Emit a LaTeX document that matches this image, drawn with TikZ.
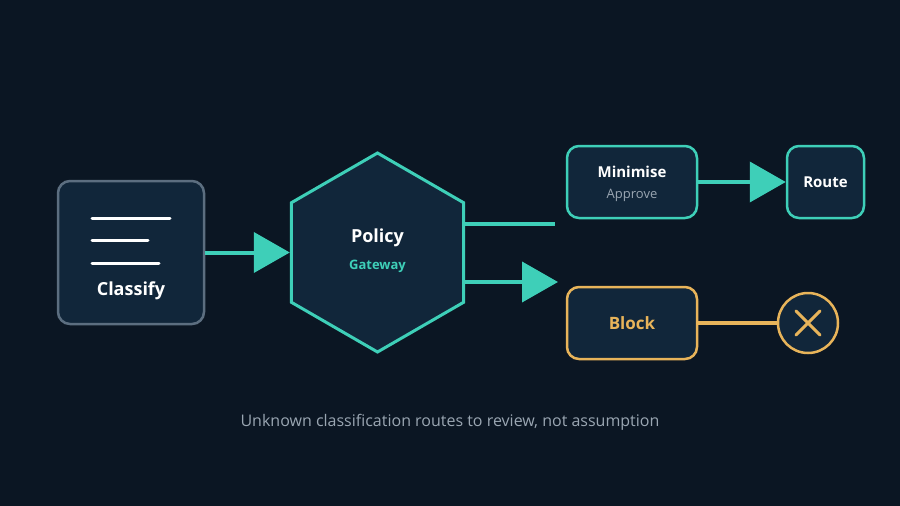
\documentclass[tikz,border=0pt]{standalone}
\usepackage{fontspec}
\setmainfont{Open Sans}
\usetikzlibrary{shapes.geometric,arrows.meta}
\definecolor{bgdark}{HTML}{0B1623}
\definecolor{boxfill}{HTML}{11263A}
\definecolor{teal}{HTML}{3ECFB8}
\definecolor{amber}{HTML}{E8B45A}
\definecolor{slate}{HTML}{5C6E80}
\definecolor{mute}{HTML}{9AA6B2}
\tikzset{
  card/.style={line width=2.5pt, fill=boxfill, rounded corners=12pt, inner sep=0pt},
  flow/.style={teal, line width=4pt, -{Triangle[length=36pt,width=40pt]}},
}
\begin{document}
\begin{tikzpicture}[x=1pt,y=-1pt]
	\fill[bgdark] (0,0) rectangle (900,506);
	\useasboundingbox (0,0) rectangle (900,506);
	\node[card, draw=slate, minimum width=146pt, minimum height=143pt] (classify) at (131,252.5) {};
	\draw[white, line width=3pt, line cap=round] (92,218) -- (170,218) (92,240) -- (148,240) (92,263) -- (159,263);
	\node[text=white, font=\bfseries\fontsize{18}{20}\selectfont] (classifylbl) at (131,291) {Classify};
	\node[regular polygon, regular polygon sides=6, shape border rotate=30, draw=teal, line width=3pt,
	  fill=boxfill, minimum size=199pt, inner sep=0pt] (gate) at (377.5,252.5) {};
	\node[text=white, font=\bfseries\fontsize{18}{20}\selectfont] (policy) at (377.5,238) {Policy};
	\node[text=teal, font=\bfseries\fontsize{13}{15}\selectfont] (gatewaylbl) at (377.5,266) {Gateway};
	\node[card, draw=teal, minimum width=130pt, minimum height=72pt] (minimise) at (632,182) {};
	\node[text=white, font=\bfseries\fontsize{15}{17}\selectfont] at (632,172) {Minimise};
	\node[text=mute, font=\fontsize{13}{15}\selectfont] at (632,195) {Approve};
	\node[card, draw=teal, minimum width=77pt, minimum height=72pt, font=\bfseries\fontsize{15}{17}\selectfont,
	  text=white] (route) at (825.5,182) {Route};
	\node[card, draw=amber, minimum width=130pt, minimum height=72pt, font=\bfseries\fontsize{17}{19}\selectfont,
	  text=amber] (block) at (632,323) {Block};
	\node[circle, draw=amber, line width=2.5pt, fill=boxfill, minimum size=60pt, inner sep=0pt] (deny) at (808,323) {};
	\draw[amber, line width=3pt, line cap=round] (deny.center) ++(-12,-12) -- ++(24,24) (deny.center) ++(12,-12) -- ++(-24,24);
	\coordinate (gateup) at (463,224);
	\coordinate (gateupend) at (555,224);
	\coordinate (gatelow) at (463,282);
	\coordinate (gatelowend) at (558,282);
	\draw[flow] (classify.east) -- (gate.west);
	\draw[teal, line width=4pt] (gateup) -- (gateupend);
	\draw[flow] (gatelow) -- (gatelowend);
	\draw[flow] (minimise.east) -- (route.west);
	\draw[amber, line width=3.5pt] (block.east) -- (deny.west);
	\node[text=mute, font=\fontsize{16}{18}\selectfont] (caption) at (450,422) {Unknown classification routes to review, not assumption};
\end{tikzpicture}
\end{document}
